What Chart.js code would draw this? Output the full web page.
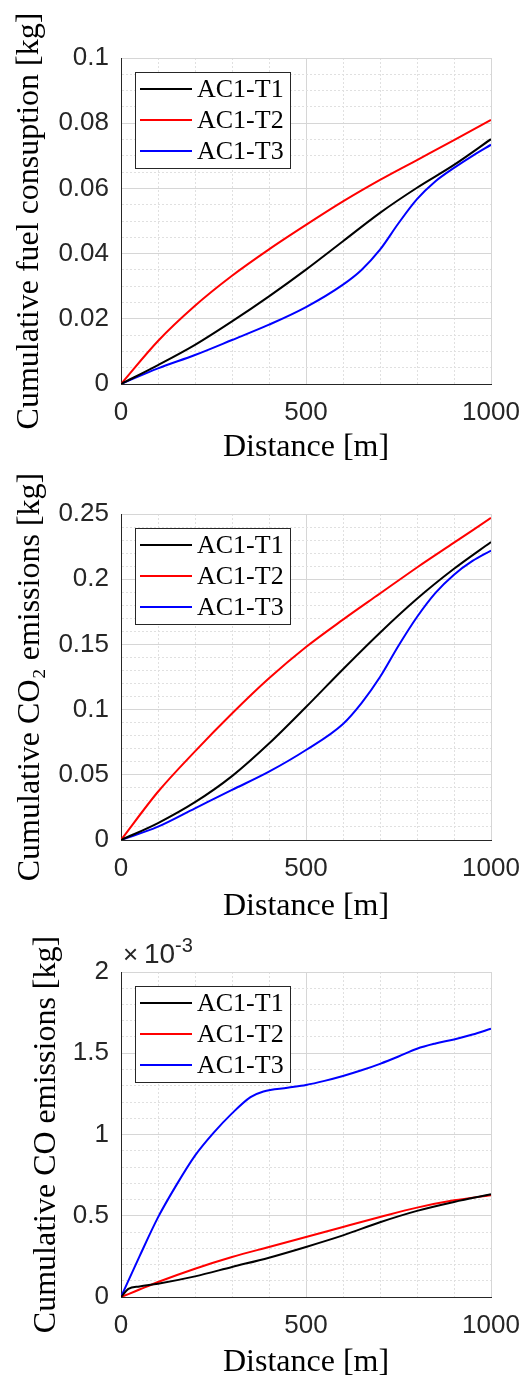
<!DOCTYPE html>
<html>
<head>
<meta charset="utf-8">
<script src="https://cdn.jsdelivr.net/npm/chart.js@4.4.1/dist/chart.umd.min.js"></script>
<style>
  html, body { margin: 0; padding: 0; background: #fff; overflow: hidden; }
  body { width: 524px; height: 1380px; position: relative; }
  .panel { position: absolute; left: 0; width: 524px; }
</style>
</head>
<body>
<div class="panel" style="top:0;height:464px"><canvas id="fuelChart"></canvas></div>
<div class="panel" style="top:460px;height:463px"><canvas id="co2Chart"></canvas></div>
<div class="panel" style="top:920px;height:459px"><canvas id="coChart"></canvas></div>
<script>
// Distance samples [m]
const distance = [0, 100, 200, 300, 400, 500, 600, 700, 800, 900, 1000];
const distanceT3 = [0, 100, 200, 300, 400, 500, 600, 650, 700, 750, 800, 850, 900, 950, 1000];
const coDistance = [0, 20, 50, 100, 200, 300, 400, 500, 600, 700, 800, 900, 1000];
const coDistanceT3 = [0, 50, 100, 150, 200, 250, 300, 350, 385, 450, 500, 550, 600, 650, 700, 750, 800, 850, 900, 950, 1000];

const seriesLabels = ['AC1-T1', 'AC1-T2', 'AC1-T3'];
const seriesColors = ['#000000', '#ff0000', '#0000ff'];

// Cumulative fuel consumption [kg]
const fuelT1 = [0, 0.0058, 0.0120, 0.0192, 0.0269, 0.0351, 0.0438, 0.0525, 0.0602, 0.0672, 0.0751];
const fuelT2 = [0, 0.0132, 0.0240, 0.0332, 0.0413, 0.0488, 0.0560, 0.0626, 0.0687, 0.0748, 0.0810];
const fuelT3 = [0, 0.0048, 0.0089, 0.0135, 0.0182, 0.0236, 0.0305, 0.0350, 0.0412, 0.0493, 0.0567, 0.0622, 0.0663, 0.0700, 0.0734];

// Cumulative CO2 emissions [kg]
const co2T1 = [0, 0.0130, 0.0290, 0.0490, 0.0740, 0.1020, 0.1310, 0.1590, 0.1850, 0.2080, 0.2285];
const co2T2 = [0, 0.0370, 0.0680, 0.0970, 0.1240, 0.1480, 0.1690, 0.1890, 0.2090, 0.2280, 0.2470];
const co2T3 = [0, 0.0102, 0.0243, 0.0384, 0.0524, 0.0690, 0.0890, 0.1050, 0.1250, 0.1490, 0.1710, 0.1895, 0.2035, 0.2140, 0.2220];

// Cumulative CO emissions [kg]
const coT1 = [0, 0.050e-3, 0.065e-3, 0.082e-3, 0.127e-3, 0.185e-3, 0.242e-3, 0.308e-3, 0.379e-3, 0.460e-3, 0.530e-3, 0.585e-3, 0.632e-3];
const coT2 = [0, 0.018e-3, 0.046e-3, 0.092e-3, 0.174e-3, 0.246e-3, 0.308e-3, 0.369e-3, 0.431e-3, 0.492e-3, 0.550e-3, 0.595e-3, 0.626e-3];
const coT3 = [0, 0.250e-3, 0.490e-3, 0.690e-3, 0.870e-3, 1.010e-3, 1.130e-3, 1.230e-3, 1.265e-3, 1.288e-3, 1.305e-3, 1.330e-3, 1.360e-3, 1.395e-3, 1.435e-3, 1.480e-3, 1.528e-3, 1.560e-3, 1.585e-3, 1.615e-3, 1.651e-3];

// Axis ticks
const xMajorTicks = [0, 500, 1000];
const fuelMajorTicks = [0, 0.02, 0.04, 0.06, 0.08, 0.1];
const co2MajorTicks = [0, 0.05, 0.1, 0.15, 0.2, 0.25];
const coMajorTicks = [0, 0.5e-3, 1e-3, 1.5e-3, 2e-3];
const coTickLabels = ['0', '0.5', '1', '1.5', '2'];

const TICK_FONT = { family: 'Liberation Sans, Arial, sans-serif', size: 26 };
const TITLE_FONT = { family: 'Liberation Serif, Times New Roman, serif', size: 32, lineHeight: 1 };
const LEGEND_FONT = '26px "Liberation Serif", "Times New Roman", serif';

function isMajor(value, majors) {
  return majors.some(m => Math.abs(m - value) < 1e-9);
}

// MATLAB-style legend box in the upper left of the plot area
const boxLegend = {
  id: 'boxLegend',
  afterDatasetsDraw(chart) {
    const { ctx, chartArea } = chart;
    const x0 = chartArea.left + 14;
    const y0 = chartArea.top + 14;
    ctx.save();
    ctx.fillStyle = '#fff';
    ctx.fillRect(x0, y0, 155, 96);
    ctx.strokeStyle = '#262626';
    ctx.lineWidth = 1;
    ctx.strokeRect(x0 + 0.5, y0 + 0.5, 155, 96);
    ctx.font = LEGEND_FONT;
    ctx.textBaseline = 'middle';
    chart.data.datasets.forEach((ds, i) => {
      const y = y0 + 17 + i * 31;
      ctx.strokeStyle = ds.borderColor;
      ctx.lineWidth = 2;
      ctx.beginPath();
      ctx.moveTo(x0 + 5, y);
      ctx.lineTo(x0 + 57, y);
      ctx.stroke();
      ctx.fillStyle = '#000';
      ctx.fillText(ds.label, x0 + 62, y + 1);
    });
    ctx.restore();
  }
};

// "x10^-3" multiplier above the y axis of the CO chart
const exponentLabel = {
  id: 'exponentLabel',
  afterDraw(chart) {
    if (chart.canvas.id !== 'coChart') return;
    const { ctx, chartArea } = chart;
    ctx.save();
    ctx.fillStyle = '#262626';
    ctx.textBaseline = 'alphabetic';
    ctx.font = '26px "Liberation Sans", Arial, sans-serif';
    ctx.fillText('\u00d7', chartArea.left + 2, chartArea.top - 9);
    ctx.font = '28px "Liberation Sans", Arial, sans-serif';
    ctx.fillText('10', chartArea.left + 23, chartArea.top - 9);
    ctx.font = '20px "Liberation Sans", Arial, sans-serif';
    ctx.fillText('-3', chartArea.left + 54, chartArea.top - 20);
    ctx.restore();
  }
};

function makeDatasets(xsList, ys) {
  return ys.map((arr, i) => ({
    label: seriesLabels[i],
    data: arr.map((v, j) => ({ x: xsList[i][j], y: v })),
    borderColor: seriesColors[i],
    backgroundColor: seriesColors[i],
    borderWidth: 2,
    pointRadius: 0,
    cubicInterpolationMode: 'monotone',
    fill: false
  }));
}

function gridOpts(majors) {
  return {
    drawTicks: false,
    lineWidth: 1,
    color: ctx => (ctx.tick && isMajor(ctx.tick.value, majors)) ? '#d6d6d6' : '#e0e0e0'
  };
}

function borderOpts(majors) {
  return {
    color: '#262626',
    width: 1,
    dash: ctx => (ctx.tick && !isMajor(ctx.tick.value, majors)) ? [2, 2] : []
  };
}

function makeChart(id, cfg) {
  return new Chart(document.getElementById(id), {
    type: 'line',
    data: { datasets: makeDatasets(cfg.xs, cfg.ys) },
    options: {
      responsive: true,
      maintainAspectRatio: false,
      animation: false,
      layout: { padding: { top: cfg.padTop, right: 33, left: 0, bottom: 0 } },
      plugins: { legend: { display: false }, tooltip: { enabled: false } },
      scales: {
        x: {
          type: 'linear',
          min: 0,
          max: 1000,
          afterFit: s => { s.height = cfg.xAxisHeight; s.paddingLeft = 0; s.paddingRight = 0; },
          ticks: {
            stepSize: 100,
            maxTicksLimit: 100,
            autoSkip: false,
            maxRotation: 0,
            padding: 13,
            color: '#262626',
            font: TICK_FONT,
            callback: v => isMajor(v, xMajorTicks) ? String(v) : ''
          },
          grid: gridOpts(xMajorTicks),
          border: borderOpts(xMajorTicks),
          title: { display: true, text: 'Distance [m]', color: '#000', font: TITLE_FONT, padding: { top: 0, bottom: 0 } }
        },
        y: {
          type: 'linear',
          min: 0,
          max: cfg.yMax,
          afterFit: s => { s.width = 121; s.paddingTop = 0; s.paddingBottom = 0; },
          ticks: {
            stepSize: cfg.yStep,
            maxTicksLimit: 100,
            autoSkip: false,
            padding: 12,
            color: '#262626',
            font: TICK_FONT,
            callback: v => {
              const k = cfg.yMajors.findIndex(m => Math.abs(m - v) < 1e-9);
              return k < 0 ? '' : cfg.yLabels[k];
            }
          },
          grid: gridOpts(cfg.yMajors),
          border: borderOpts(cfg.yMajors),
          title: { display: true, text: cfg.yTitle, color: '#000', font: TITLE_FONT, padding: { top: cfg.yTitlePad, bottom: 0 } }
        }
      }
    },
    plugins: [boxLegend, exponentLabel]
  });
}

makeChart('fuelChart', {
  xs: [distance, distance, distanceT3],
  ys: [fuelT1, fuelT2, fuelT3],
  padTop: 58, xAxisHeight: 80,
  yMax: 0.1, yStep: 0.005,
  yMajors: fuelMajorTicks, yLabels: fuelMajorTicks.map(String),
  yTitle: 'Cumulative fuel consuption [kg]', yTitlePad: 14
});

makeChart('co2Chart', {
  xs: [distance, distance, distanceT3],
  ys: [co2T1, co2T2, co2T3],
  padTop: 54, xAxisHeight: 83,
  yMax: 0.25, yStep: 0.01,
  yMajors: co2MajorTicks, yLabels: co2MajorTicks.map(String),
  yTitle: 'Cumulative CO\u2082 emissions [kg]', yTitlePad: 15
});

makeChart('coChart', {
  xs: [coDistance, coDistance, coDistanceT3],
  ys: [coT1, coT2, coT3],
  padTop: 52, xAxisHeight: 82,
  yMax: 2e-3, yStep: 0.1e-3,
  yMajors: coMajorTicks, yLabels: coTickLabels,
  yTitle: 'Cumulative CO emissions [kg]', yTitlePad: 31
});
</script>
</body>
</html>
